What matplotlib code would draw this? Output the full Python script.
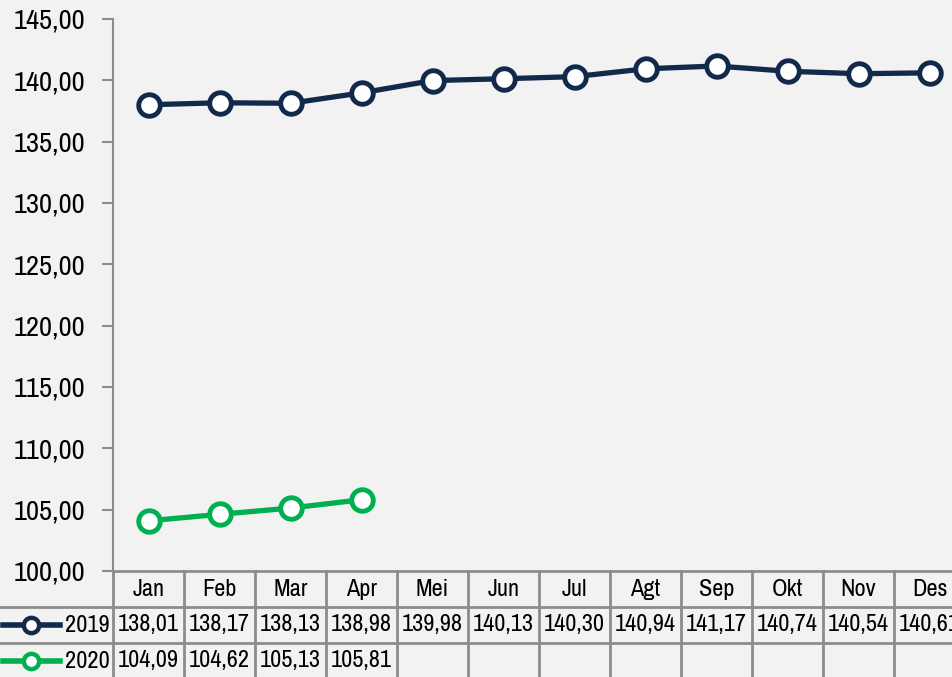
import matplotlib as mpl
mpl.use('Agg')
import matplotlib.pyplot as plt
from matplotlib.lines import Line2D

plt.rcParams['font.family'] = ['Archivo Narrow', 'DejaVu Sans']

months = ['Jan', 'Feb', 'Mar', 'Apr', 'Mei', 'Jun', 'Jul', 'Agt', 'Sep', 'Okt', 'Nov', 'Des']
v2019 = [138.01, 138.17, 138.13, 138.98, 139.98, 140.13, 140.30, 140.94, 141.17, 140.74, 140.54, 140.61]
v2020 = [104.09, 104.62, 105.13, 105.81]
series = [('2019', v2019, '#13294b'), ('2020', v2020, '#00b050')]
yticks = [100, 105, 110, 115, 120, 125, 130, 135, 140, 145]

W, H = 952, 677
bg = '#f2f2f2'
grid = '#8c8c8c'
colw = 71.0

fig = plt.figure(figsize=(W / 100, H / 100), dpi=100, facecolor=bg)

# ============ main plot ============
x0, x1 = 113, 113 + colw * len(months)
ytop, ybot = 19, 571
ax = fig.add_axes([x0 / W, (H - ybot) / H, (x1 - x0) / W, (ybot - ytop) / H])
ax.set_facecolor(bg)
for name, vals, col in series:
    ax.plot(range(len(vals)), vals, color=col, lw=3.8, marker='o', ms=15.5,
            mfc='white', mec=col, mew=3.5, zorder=3)
ax.set_xlim(-0.5, len(months) - 0.5)
ax.set_ylim(100, 145)
ax.set_yticks(yticks)
ax.set_yticklabels([f'{t:.2f}'.replace('.', ',') for t in yticks], fontsize=20.5)
ax.tick_params(axis='y', direction='out', length=8, width=1.5, color=grid, pad=12)
ax.set_xticks([])
for s in ['top', 'right']:
    ax.spines[s].set_visible(False)
ax.spines['left'].set_color(grid)
ax.spines['left'].set_linewidth(1.5)
ax.spines['bottom'].set_color(grid)
ax.spines['bottom'].set_linewidth(2)

# ============ data table ============
rowh = 36
tb_top, tb_bot = 571, 571 + 3 * rowh
tax = fig.add_axes([0, (H - tb_bot) / H, x1 / W, (tb_bot - tb_top) / H])
tax.set_facecolor('none')
tax.axis('off')
xl = -0.5 - x0 / colw
tax.set_xlim(xl, len(months) - 0.5)
tax.set_ylim(3, 0)

# vertical lines
for i in range(len(months) + 1):
    tax.plot([i - 0.5, i - 0.5], [0, 3], color=grid, lw=2, clip_on=False)
# horizontal lines
for r in [1, 2, 3]:
    tax.plot([xl, len(months) - 0.5], [r, r], color=grid, lw=2, clip_on=False)

for i, m in enumerate(months):
    tax.text(i, 0.5, m, ha='center', va='center', fontsize=17.5)

for r, (name, vals, col) in enumerate(series, start=1):
    for i, v in enumerate(vals):
        tax.text(i, r + 0.5, f'{v:.2f}'.replace('.', ','), ha='center', va='center', fontsize=17.5)
    px = lambda p: xl + p / colw
    tax.add_line(Line2D([px(3), px(60)], [r + 0.5, r + 0.5], color=col, lw=4))
    tax.plot([px(31)], [r + 0.5], marker='o', ms=11, mfc='white', mec=col, mew=3.2)
    tax.text(px(110), r + 0.5, name, ha='right', va='center', fontsize=17.5)

fig.savefig('out.png', dpi=100, facecolor=bg)
